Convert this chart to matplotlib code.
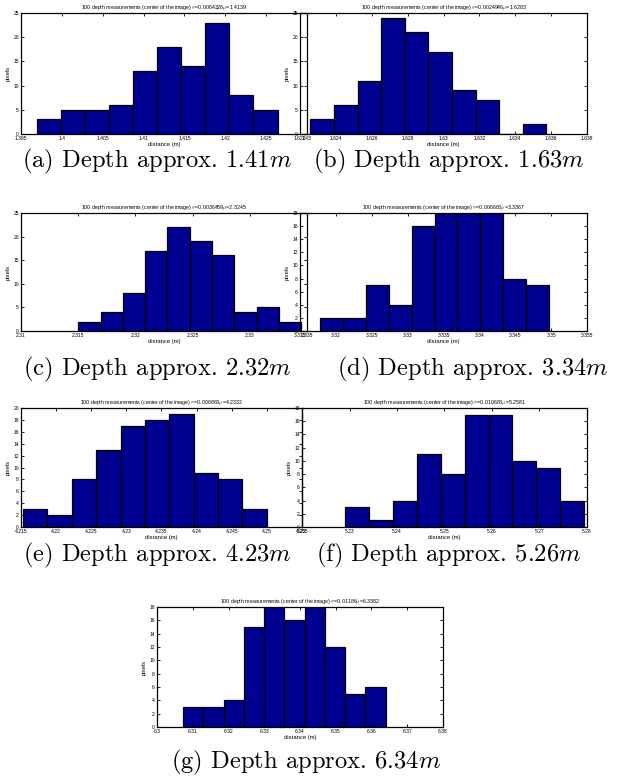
import numpy as np
import matplotlib
matplotlib.use("Agg")
import matplotlib.pyplot as plt
from matplotlib.ticker import FormatStrFormatter

plt.rcParams['font.family'] = ['Liberation Sans', 'DejaVu Sans']
plt.rcParams['mathtext.fontset'] = 'cm'

# ---------- data ----------
a_counts = [3, 5, 5, 6, 13, 18, 14, 23, 8, 5]
a_range = (1.3969, 1.4264)
b_counts = [3, 6, 11, 24, 21, 17, 9, 7, 0, 2]
b_range = (1.62258, 1.63573)
c_counts = [2, 4, 8, 17, 22, 19, 16, 4, 5, 2]
c_range = (2.315, 2.3345)
d_counts = [2, 2, 7, 4, 16, 18, 18, 18, 8, 7]
d_range = (3.3178, 3.3497)
e_counts = [3, 2, 8, 13, 17, 18, 19, 9, 8, 3]
e_range = (4.2153, 4.2500)
f_counts = [3, 1, 4, 11, 8, 17, 17, 10, 9, 4]
f_range = (5.2291, 5.2794)
g_counts = [3, 3, 4, 15, 18, 16, 18, 12, 5, 6]
g_range = (6.30727, 6.36393)

sigmas = ["0.0064326", "0.0024946", "0.0036459", "0.006688",
          "0.006863", "0.010688", "0.01186"]
mus = ["1.4139", "1.6283", "2.3245", "3.3367", "4.2332", "5.2581", "6.3382"]
captions = ["(a) Depth approx. 1.41$m$", "(b) Depth approx. 1.63$m$",
            "(c) Depth approx. 2.32$m$", "(d) Depth approx. 3.34$m$",
            "(e) Depth approx. 4.23$m$", "(f) Depth approx. 5.26$m$",
            "(g) Depth approx. 6.34$m$"]

W, H = 619, 782
fig = plt.figure(figsize=(W / 100, H / 100), dpi=100)


def px_axes(l, r, t, b):
    ax = fig.add_axes([l / W, 1 - b / H, (r - l) / W, (b - t) / H])
    ax.patch.set_alpha(0)
    return ax


def hist_panel(ax, counts, rng, xlim, xstep, ylim, ystep, sigma, mu):
    edges = np.linspace(rng[0], rng[1], len(counts) + 1)
    ax.bar(edges[:-1], counts, width=np.diff(edges), align='edge',
           color='#000090', edgecolor='black', linewidth=0.9)
    ax.set_xlim(*xlim)
    ax.set_ylim(*ylim)
    ax.set_xticks(np.arange(xlim[0], xlim[1] + xstep / 2, xstep))
    ax.set_yticks(np.arange(0, ylim[1] + ystep / 2, ystep))
    ax.xaxis.set_major_formatter(FormatStrFormatter('%g'))
    ax.yaxis.set_major_formatter(FormatStrFormatter('%g'))
    ax.tick_params(direction='in', top=True, right=True, length=2.5,
                   width=0.6, labelsize=3.6, pad=1.5)
    for s in ax.spines.values():
        s.set_linewidth(0.9)
    ax.set_title("100 depth measurements (center of the image) "
                 "$\\sigma$=" + sigma + "$\\mu$=" + mu, fontsize=3.8, pad=3)
    ax.set_xlabel("distance (m)", fontsize=4.2, labelpad=1)
    ax.set_ylabel("pixels", fontsize=4.2, labelpad=2)


ax = px_axes(21, 307, 13, 134)
hist_panel(ax, a_counts, a_range, (1.395, 1.43), 0.005, (0, 25), 5, sigmas[0], mus[0])
ax = px_axes(300, 587, 13, 134)
hist_panel(ax, b_counts, b_range, (1.622, 1.638), 0.002, (0, 25), 5, sigmas[1], mus[1])

ax = px_axes(21, 307, 213, 331)
hist_panel(ax, c_counts, c_range, (2.31, 2.335), 0.005, (0, 25), 5, sigmas[2], mus[2])
ax = px_axes(300, 587, 213, 331)
hist_panel(ax, d_counts, d_range, (3.315, 3.355), 0.005, (0, 18), 2, sigmas[3], mus[3])

ax = px_axes(21, 302, 408, 527)
hist_panel(ax, e_counts, e_range, (4.215, 4.255), 0.005, (0, 20), 2, sigmas[4], mus[4])
ax = px_axes(302, 587, 408, 527)
hist_panel(ax, f_counts, f_range, (5.22, 5.28), 0.01, (0, 18), 2, sigmas[5], mus[5])

ax = px_axes(157, 443, 607, 727)
hist_panel(ax, g_counts, g_range, (6.3, 6.38), 0.01, (0, 18), 2, sigmas[6], mus[6])

# captions
cap_pos = [(157, 161), (449, 161), (157, 369), (473, 369),
           (157, 555), (449, 555), (306, 762)]
for (x, y), txt in zip(cap_pos, captions):
    fig.text(x / W, 1 - y / H, txt, ha='center', va='center',
             fontsize=17.7, family='cmr10')

fig.savefig("out.png", dpi=100, facecolor='white')
